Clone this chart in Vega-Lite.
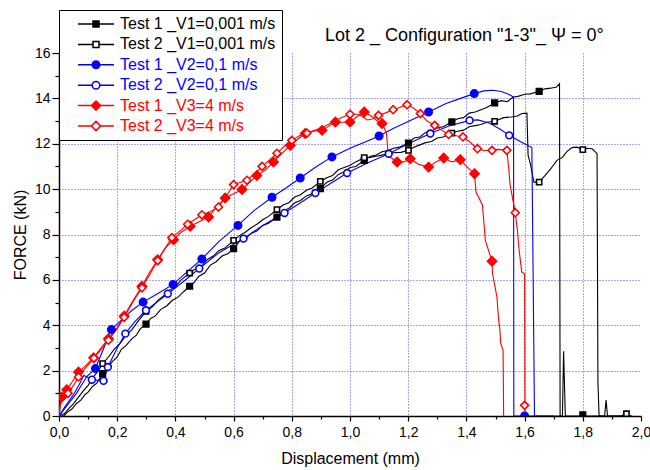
{
"$schema":"https://vega.github.io/schema/vega-lite/v6.json",
"width":582,"height":363,
"autosize":{"type":"none"},
"padding":{"left":59,"top":53,"right":9,"bottom":54},
"background":"#ffffff",
"config":{"font":"Liberation Sans","view":{"stroke":null},
 "axis":{"domainColor":"#000000","domainWidth":1.5,"tickColor":"#000000","tickWidth":1.2,"labelColor":"#000000","labelFontSize":14,"titleFontSize":16,"titleFontWeight":"normal","titleColor":"#000000","gridColor":"#3030ff","gridDash":[1,2],"gridWidth":1,"labelOverlap":false,"labelBound":false,"labelFlush":false}},
"title":{"text":"Lot 2 _ Configuration \"1-3\"_ Ψ = 0°","anchor":"start","frame":"group","dx":266,"offset":0,"dy":35,"fontSize":18,"fontWeight":"normal","font":"Liberation Sans","color":"#000000"},
"datasets":{
"curves":[
{"series":"Test 1 _V1=0,001 m/s","x":0,"y":0},{"series":"Test 1 _V1=0,001 m/s","x":0.016,"y":0},{"series":"Test 1 _V1=0,001 m/s","x":0.03,"y":0.18},{"series":"Test 1 _V1=0,001 m/s","x":0.045,"y":0.32},{"series":"Test 1 _V1=0,001 m/s","x":0.06,"y":0.55},{"series":"Test 1 _V1=0,001 m/s","x":0.075,"y":0.7},{"series":"Test 1 _V1=0,001 m/s","x":0.09,"y":0.95},{"series":"Test 1 _V1=0,001 m/s","x":0.1,"y":1.05},{"series":"Test 1 _V1=0,001 m/s","x":0.115,"y":1.3},{"series":"Test 1 _V1=0,001 m/s","x":0.13,"y":1.45},{"series":"Test 1 _V1=0,001 m/s","x":0.15,"y":1.87},{"series":"Test 1 _V1=0,001 m/s","x":0.165,"y":2.0},{"series":"Test 1 _V1=0,001 m/s","x":0.18,"y":2.35},{"series":"Test 1 _V1=0,001 m/s","x":0.2,"y":2.6},{"series":"Test 1 _V1=0,001 m/s","x":0.215,"y":2.95},{"series":"Test 1 _V1=0,001 m/s","x":0.23,"y":3.1},{"series":"Test 1 _V1=0,001 m/s","x":0.25,"y":3.4},{"series":"Test 1 _V1=0,001 m/s","x":0.265,"y":3.55},{"series":"Test 1 _V1=0,001 m/s","x":0.28,"y":3.85},{"series":"Test 1 _V1=0,001 m/s","x":0.299,"y":4.05},{"series":"Test 1 _V1=0,001 m/s","x":0.315,"y":4.3},{"series":"Test 1 _V1=0,001 m/s","x":0.33,"y":4.4},{"series":"Test 1 _V1=0,001 m/s","x":0.35,"y":4.7},{"series":"Test 1 _V1=0,001 m/s","x":0.37,"y":4.85},{"series":"Test 1 _V1=0,001 m/s","x":0.39,"y":5.1},{"series":"Test 1 _V1=0,001 m/s","x":0.41,"y":5.25},{"series":"Test 1 _V1=0,001 m/s","x":0.43,"y":5.5},{"series":"Test 1 _V1=0,001 m/s","x":0.449,"y":5.72},{"series":"Test 1 _V1=0,001 m/s","x":0.465,"y":5.9},{"series":"Test 1 _V1=0,001 m/s","x":0.48,"y":6.15},{"series":"Test 1 _V1=0,001 m/s","x":0.5,"y":6.3},{"series":"Test 1 _V1=0,001 m/s","x":0.52,"y":6.65},{"series":"Test 1 _V1=0,001 m/s","x":0.54,"y":6.8},{"series":"Test 1 _V1=0,001 m/s","x":0.56,"y":7.05},{"series":"Test 1 _V1=0,001 m/s","x":0.58,"y":7.15},{"series":"Test 1 _V1=0,001 m/s","x":0.6,"y":7.38},{"series":"Test 1 _V1=0,001 m/s","x":0.62,"y":7.7},{"series":"Test 1 _V1=0,001 m/s","x":0.64,"y":7.8},{"series":"Test 1 _V1=0,001 m/s","x":0.66,"y":8.05},{"series":"Test 1 _V1=0,001 m/s","x":0.68,"y":8.15},{"series":"Test 1 _V1=0,001 m/s","x":0.7,"y":8.4},{"series":"Test 1 _V1=0,001 m/s","x":0.72,"y":8.5},{"series":"Test 1 _V1=0,001 m/s","x":0.749,"y":8.77},{"series":"Test 1 _V1=0,001 m/s","x":0.77,"y":9.05},{"series":"Test 1 _V1=0,001 m/s","x":0.79,"y":9.15},{"series":"Test 1 _V1=0,001 m/s","x":0.81,"y":9.4},{"series":"Test 1 _V1=0,001 m/s","x":0.83,"y":9.5},{"series":"Test 1 _V1=0,001 m/s","x":0.85,"y":9.7},{"series":"Test 1 _V1=0,001 m/s","x":0.87,"y":9.8},{"series":"Test 1 _V1=0,001 m/s","x":0.898,"y":10.02},{"series":"Test 1 _V1=0,001 m/s","x":0.92,"y":10.3},{"series":"Test 1 _V1=0,001 m/s","x":0.94,"y":10.4},{"series":"Test 1 _V1=0,001 m/s","x":0.96,"y":10.65},{"series":"Test 1 _V1=0,001 m/s","x":0.98,"y":10.75},{"series":"Test 1 _V1=0,001 m/s","x":1.0,"y":10.95},{"series":"Test 1 _V1=0,001 m/s","x":1.02,"y":11.0},{"series":"Test 1 _V1=0,001 m/s","x":1.049,"y":11.27},{"series":"Test 1 _V1=0,001 m/s","x":1.07,"y":11.45},{"series":"Test 1 _V1=0,001 m/s","x":1.09,"y":11.5},{"series":"Test 1 _V1=0,001 m/s","x":1.11,"y":11.65},{"series":"Test 1 _V1=0,001 m/s","x":1.13,"y":11.7},{"series":"Test 1 _V1=0,001 m/s","x":1.15,"y":11.8},{"series":"Test 1 _V1=0,001 m/s","x":1.17,"y":11.85},{"series":"Test 1 _V1=0,001 m/s","x":1.201,"y":12.03},{"series":"Test 1 _V1=0,001 m/s","x":1.22,"y":12.25},{"series":"Test 1 _V1=0,001 m/s","x":1.24,"y":12.3},{"series":"Test 1 _V1=0,001 m/s","x":1.26,"y":12.5},{"series":"Test 1 _V1=0,001 m/s","x":1.28,"y":12.55},{"series":"Test 1 _V1=0,001 m/s","x":1.3,"y":12.7},{"series":"Test 1 _V1=0,001 m/s","x":1.32,"y":12.75},{"series":"Test 1 _V1=0,001 m/s","x":1.35,"y":12.96},{"series":"Test 1 _V1=0,001 m/s","x":1.37,"y":13.1},{"series":"Test 1 _V1=0,001 m/s","x":1.39,"y":13.15},{"series":"Test 1 _V1=0,001 m/s","x":1.41,"y":13.35},{"series":"Test 1 _V1=0,001 m/s","x":1.43,"y":13.4},{"series":"Test 1 _V1=0,001 m/s","x":1.45,"y":13.5},{"series":"Test 1 _V1=0,001 m/s","x":1.47,"y":13.6},{"series":"Test 1 _V1=0,001 m/s","x":1.497,"y":13.8},{"series":"Test 1 _V1=0,001 m/s","x":1.52,"y":13.9},{"series":"Test 1 _V1=0,001 m/s","x":1.54,"y":13.85},{"series":"Test 1 _V1=0,001 m/s","x":1.56,"y":14.05},{"series":"Test 1 _V1=0,001 m/s","x":1.58,"y":14.1},{"series":"Test 1 _V1=0,001 m/s","x":1.6,"y":14.18},{"series":"Test 1 _V1=0,001 m/s","x":1.62,"y":14.2},{"series":"Test 1 _V1=0,001 m/s","x":1.65,"y":14.31},{"series":"Test 1 _V1=0,001 m/s","x":1.67,"y":14.42},{"series":"Test 1 _V1=0,001 m/s","x":1.69,"y":14.45},{"series":"Test 1 _V1=0,001 m/s","x":1.71,"y":14.5},{"series":"Test 1 _V1=0,001 m/s","x":1.72,"y":14.65},{"series":"Test 1 _V1=0,001 m/s","x":1.722,"y":0},{"series":"Test 1 _V1=0,001 m/s","x":1.73,"y":0},{"series":"Test 1 _V1=0,001 m/s","x":1.734,"y":2.85},{"series":"Test 1 _V1=0,001 m/s","x":1.74,"y":0},{"series":"Test 1 _V1=0,001 m/s","x":1.79,"y":0},{"series":"Test 1 _V1=0,001 m/s","x":1.8,"y":0.05},{"series":"Test 1 _V1=0,001 m/s","x":1.81,"y":0},{"series":"Test 1 _V1=0,001 m/s","x":1.96,"y":0},
{"series":"Test 2 _V1=0,001 m/s","x":0,"y":0},{"series":"Test 2 _V1=0,001 m/s","x":0.02,"y":0.12},{"series":"Test 2 _V1=0,001 m/s","x":0.035,"y":0.35},{"series":"Test 2 _V1=0,001 m/s","x":0.05,"y":0.55},{"series":"Test 2 _V1=0,001 m/s","x":0.065,"y":0.8},{"series":"Test 2 _V1=0,001 m/s","x":0.08,"y":1.05},{"series":"Test 2 _V1=0,001 m/s","x":0.1,"y":1.35},{"series":"Test 2 _V1=0,001 m/s","x":0.12,"y":1.75},{"series":"Test 2 _V1=0,001 m/s","x":0.135,"y":2.0},{"series":"Test 2 _V1=0,001 m/s","x":0.15,"y":2.31},{"series":"Test 2 _V1=0,001 m/s","x":0.17,"y":2.6},{"series":"Test 2 _V1=0,001 m/s","x":0.19,"y":2.95},{"series":"Test 2 _V1=0,001 m/s","x":0.21,"y":3.2},{"series":"Test 2 _V1=0,001 m/s","x":0.23,"y":3.55},{"series":"Test 2 _V1=0,001 m/s","x":0.25,"y":3.8},{"series":"Test 2 _V1=0,001 m/s","x":0.27,"y":4.15},{"series":"Test 2 _V1=0,001 m/s","x":0.299,"y":4.61},{"series":"Test 2 _V1=0,001 m/s","x":0.32,"y":4.8},{"series":"Test 2 _V1=0,001 m/s","x":0.34,"y":5.1},{"series":"Test 2 _V1=0,001 m/s","x":0.36,"y":5.3},{"series":"Test 2 _V1=0,001 m/s","x":0.38,"y":5.55},{"series":"Test 2 _V1=0,001 m/s","x":0.4,"y":5.7},{"series":"Test 2 _V1=0,001 m/s","x":0.42,"y":6.0},{"series":"Test 2 _V1=0,001 m/s","x":0.449,"y":6.3},{"series":"Test 2 _V1=0,001 m/s","x":0.47,"y":6.5},{"series":"Test 2 _V1=0,001 m/s","x":0.49,"y":6.6},{"series":"Test 2 _V1=0,001 m/s","x":0.51,"y":6.9},{"series":"Test 2 _V1=0,001 m/s","x":0.53,"y":7.05},{"series":"Test 2 _V1=0,001 m/s","x":0.55,"y":7.3},{"series":"Test 2 _V1=0,001 m/s","x":0.57,"y":7.4},{"series":"Test 2 _V1=0,001 m/s","x":0.6,"y":7.74},{"series":"Test 2 _V1=0,001 m/s","x":0.62,"y":7.95},{"series":"Test 2 _V1=0,001 m/s","x":0.64,"y":8.1},{"series":"Test 2 _V1=0,001 m/s","x":0.66,"y":8.3},{"series":"Test 2 _V1=0,001 m/s","x":0.68,"y":8.45},{"series":"Test 2 _V1=0,001 m/s","x":0.7,"y":8.65},{"series":"Test 2 _V1=0,001 m/s","x":0.72,"y":8.8},{"series":"Test 2 _V1=0,001 m/s","x":0.749,"y":9.1},{"series":"Test 2 _V1=0,001 m/s","x":0.77,"y":9.3},{"series":"Test 2 _V1=0,001 m/s","x":0.79,"y":9.4},{"series":"Test 2 _V1=0,001 m/s","x":0.81,"y":9.65},{"series":"Test 2 _V1=0,001 m/s","x":0.83,"y":9.75},{"series":"Test 2 _V1=0,001 m/s","x":0.85,"y":9.95},{"series":"Test 2 _V1=0,001 m/s","x":0.87,"y":10.05},{"series":"Test 2 _V1=0,001 m/s","x":0.898,"y":10.34},{"series":"Test 2 _V1=0,001 m/s","x":0.92,"y":10.5},{"series":"Test 2 _V1=0,001 m/s","x":0.94,"y":10.6},{"series":"Test 2 _V1=0,001 m/s","x":0.96,"y":10.85},{"series":"Test 2 _V1=0,001 m/s","x":0.98,"y":10.95},{"series":"Test 2 _V1=0,001 m/s","x":1.0,"y":11.05},{"series":"Test 2 _V1=0,001 m/s","x":1.02,"y":11.2},{"series":"Test 2 _V1=0,001 m/s","x":1.049,"y":11.39},{"series":"Test 2 _V1=0,001 m/s","x":1.07,"y":11.4},{"series":"Test 2 _V1=0,001 m/s","x":1.09,"y":11.45},{"series":"Test 2 _V1=0,001 m/s","x":1.11,"y":11.5},{"series":"Test 2 _V1=0,001 m/s","x":1.13,"y":11.55},{"series":"Test 2 _V1=0,001 m/s","x":1.15,"y":11.6},{"series":"Test 2 _V1=0,001 m/s","x":1.175,"y":11.62},{"series":"Test 2 _V1=0,001 m/s","x":1.201,"y":11.71},{"series":"Test 2 _V1=0,001 m/s","x":1.22,"y":11.85},{"series":"Test 2 _V1=0,001 m/s","x":1.24,"y":11.95},{"series":"Test 2 _V1=0,001 m/s","x":1.26,"y":12.05},{"series":"Test 2 _V1=0,001 m/s","x":1.28,"y":12.1},{"series":"Test 2 _V1=0,001 m/s","x":1.3,"y":12.25},{"series":"Test 2 _V1=0,001 m/s","x":1.32,"y":12.3},{"series":"Test 2 _V1=0,001 m/s","x":1.35,"y":12.47},{"series":"Test 2 _V1=0,001 m/s","x":1.37,"y":12.55},{"series":"Test 2 _V1=0,001 m/s","x":1.39,"y":12.6},{"series":"Test 2 _V1=0,001 m/s","x":1.41,"y":12.75},{"series":"Test 2 _V1=0,001 m/s","x":1.43,"y":12.8},{"series":"Test 2 _V1=0,001 m/s","x":1.45,"y":12.85},{"series":"Test 2 _V1=0,001 m/s","x":1.47,"y":12.95},{"series":"Test 2 _V1=0,001 m/s","x":1.497,"y":12.99},{"series":"Test 2 _V1=0,001 m/s","x":1.528,"y":13.15},{"series":"Test 2 _V1=0,001 m/s","x":1.554,"y":13.18},{"series":"Test 2 _V1=0,001 m/s","x":1.575,"y":13.22},{"series":"Test 2 _V1=0,001 m/s","x":1.591,"y":13.33},{"series":"Test 2 _V1=0,001 m/s","x":1.608,"y":13.35},{"series":"Test 2 _V1=0,001 m/s","x":1.612,"y":11.5},{"series":"Test 2 _V1=0,001 m/s","x":1.62,"y":11.1},{"series":"Test 2 _V1=0,001 m/s","x":1.632,"y":10.31},{"series":"Test 2 _V1=0,001 m/s","x":1.65,"y":10.31},{"series":"Test 2 _V1=0,001 m/s","x":1.67,"y":10.6},{"series":"Test 2 _V1=0,001 m/s","x":1.69,"y":10.9},{"series":"Test 2 _V1=0,001 m/s","x":1.711,"y":11.27},{"series":"Test 2 _V1=0,001 m/s","x":1.73,"y":11.4},{"series":"Test 2 _V1=0,001 m/s","x":1.745,"y":11.65},{"series":"Test 2 _V1=0,001 m/s","x":1.763,"y":11.83},{"series":"Test 2 _V1=0,001 m/s","x":1.78,"y":11.85},{"series":"Test 2 _V1=0,001 m/s","x":1.8,"y":11.74},{"series":"Test 2 _V1=0,001 m/s","x":1.815,"y":11.8},{"series":"Test 2 _V1=0,001 m/s","x":1.832,"y":11.78},{"series":"Test 2 _V1=0,001 m/s","x":1.849,"y":11.56},{"series":"Test 2 _V1=0,001 m/s","x":1.852,"y":1.5},{"series":"Test 2 _V1=0,001 m/s","x":1.856,"y":0},{"series":"Test 2 _V1=0,001 m/s","x":1.875,"y":0},{"series":"Test 2 _V1=0,001 m/s","x":1.88,"y":0.7},{"series":"Test 2 _V1=0,001 m/s","x":1.885,"y":0},{"series":"Test 2 _V1=0,001 m/s","x":1.93,"y":0},{"series":"Test 2 _V1=0,001 m/s","x":1.95,"y":0.1},{"series":"Test 2 _V1=0,001 m/s","x":1.965,"y":0},{"series":"Test 2 _V1=0,001 m/s","x":1.97,"y":0},
{"series":"Test 1 _V2=0,1 m/s","x":0,"y":0},{"series":"Test 1 _V2=0,1 m/s","x":0.03,"y":0.5},{"series":"Test 1 _V2=0,1 m/s","x":0.06,"y":1.0},{"series":"Test 1 _V2=0,1 m/s","x":0.096,"y":1.75},{"series":"Test 1 _V2=0,1 m/s","x":0.125,"y":2.09},{"series":"Test 1 _V2=0,1 m/s","x":0.18,"y":3.81},{"series":"Test 1 _V2=0,1 m/s","x":0.22,"y":4.3},{"series":"Test 1 _V2=0,1 m/s","x":0.25,"y":4.65},{"series":"Test 1 _V2=0,1 m/s","x":0.289,"y":5.02},{"series":"Test 1 _V2=0,1 m/s","x":0.34,"y":5.4},{"series":"Test 1 _V2=0,1 m/s","x":0.392,"y":5.8},{"series":"Test 1 _V2=0,1 m/s","x":0.44,"y":6.35},{"series":"Test 1 _V2=0,1 m/s","x":0.491,"y":6.92},{"series":"Test 1 _V2=0,1 m/s","x":0.55,"y":7.7},{"series":"Test 1 _V2=0,1 m/s","x":0.615,"y":8.4},{"series":"Test 1 _V2=0,1 m/s","x":0.67,"y":9.05},{"series":"Test 1 _V2=0,1 m/s","x":0.732,"y":9.64},{"series":"Test 1 _V2=0,1 m/s","x":0.78,"y":10.05},{"series":"Test 1 _V2=0,1 m/s","x":0.829,"y":10.49},{"series":"Test 1 _V2=0,1 m/s","x":0.88,"y":10.95},{"series":"Test 1 _V2=0,1 m/s","x":0.938,"y":11.42},{"series":"Test 1 _V2=0,1 m/s","x":1.0,"y":11.8},{"series":"Test 1 _V2=0,1 m/s","x":1.05,"y":12.07},{"series":"Test 1 _V2=0,1 m/s","x":1.1,"y":12.34},{"series":"Test 1 _V2=0,1 m/s","x":1.15,"y":12.68},{"series":"Test 1 _V2=0,1 m/s","x":1.2,"y":12.98},{"series":"Test 1 _V2=0,1 m/s","x":1.27,"y":13.4},{"series":"Test 1 _V2=0,1 m/s","x":1.33,"y":13.77},{"series":"Test 1 _V2=0,1 m/s","x":1.38,"y":14.0},{"series":"Test 1 _V2=0,1 m/s","x":1.427,"y":14.21},{"series":"Test 1 _V2=0,1 m/s","x":1.46,"y":14.33},{"series":"Test 1 _V2=0,1 m/s","x":1.49,"y":14.36},{"series":"Test 1 _V2=0,1 m/s","x":1.52,"y":14.3},{"series":"Test 1 _V2=0,1 m/s","x":1.545,"y":14.18},{"series":"Test 1 _V2=0,1 m/s","x":1.562,"y":14.06},{"series":"Test 1 _V2=0,1 m/s","x":1.563,"y":0},{"series":"Test 1 _V2=0,1 m/s","x":1.73,"y":0},
{"series":"Test 2 _V2=0,1 m/s","x":0,"y":0},{"series":"Test 2 _V2=0,1 m/s","x":0.02,"y":0.4},{"series":"Test 2 _V2=0,1 m/s","x":0.05,"y":0.95},{"series":"Test 2 _V2=0,1 m/s","x":0.07,"y":1.4},{"series":"Test 2 _V2=0,1 m/s","x":0.085,"y":1.79},{"series":"Test 2 _V2=0,1 m/s","x":0.1,"y":1.7},{"series":"Test 2 _V2=0,1 m/s","x":0.113,"y":1.6},{"series":"Test 2 _V2=0,1 m/s","x":0.135,"y":1.57},{"series":"Test 2 _V2=0,1 m/s","x":0.153,"y":1.55},{"series":"Test 2 _V2=0,1 m/s","x":0.168,"y":2.16},{"series":"Test 2 _V2=0,1 m/s","x":0.2,"y":3.0},{"series":"Test 2 _V2=0,1 m/s","x":0.228,"y":3.63},{"series":"Test 2 _V2=0,1 m/s","x":0.26,"y":4.15},{"series":"Test 2 _V2=0,1 m/s","x":0.299,"y":4.66},{"series":"Test 2 _V2=0,1 m/s","x":0.34,"y":5.05},{"series":"Test 2 _V2=0,1 m/s","x":0.374,"y":5.39},{"series":"Test 2 _V2=0,1 m/s","x":0.43,"y":5.95},{"series":"Test 2 _V2=0,1 m/s","x":0.482,"y":6.5},{"series":"Test 2 _V2=0,1 m/s","x":0.55,"y":7.2},{"series":"Test 2 _V2=0,1 m/s","x":0.634,"y":7.82},{"series":"Test 2 _V2=0,1 m/s","x":0.7,"y":8.4},{"series":"Test 2 _V2=0,1 m/s","x":0.775,"y":8.95},{"series":"Test 2 _V2=0,1 m/s","x":0.83,"y":9.4},{"series":"Test 2 _V2=0,1 m/s","x":0.881,"y":9.83},{"series":"Test 2 _V2=0,1 m/s","x":0.94,"y":10.3},{"series":"Test 2 _V2=0,1 m/s","x":0.99,"y":10.71},{"series":"Test 2 _V2=0,1 m/s","x":1.06,"y":11.15},{"series":"Test 2 _V2=0,1 m/s","x":1.133,"y":11.56},{"series":"Test 2 _V2=0,1 m/s","x":1.2,"y":12.0},{"series":"Test 2 _V2=0,1 m/s","x":1.276,"y":12.45},{"series":"Test 2 _V2=0,1 m/s","x":1.34,"y":12.78},{"series":"Test 2 _V2=0,1 m/s","x":1.411,"y":13.03},{"series":"Test 2 _V2=0,1 m/s","x":1.44,"y":13.05},{"series":"Test 2 _V2=0,1 m/s","x":1.48,"y":12.9},{"series":"Test 2 _V2=0,1 m/s","x":1.515,"y":12.65},{"series":"Test 2 _V2=0,1 m/s","x":1.547,"y":12.37},{"series":"Test 2 _V2=0,1 m/s","x":1.585,"y":12.1},{"series":"Test 2 _V2=0,1 m/s","x":1.625,"y":11.83},{"series":"Test 2 _V2=0,1 m/s","x":1.634,"y":0},{"series":"Test 2 _V2=0,1 m/s","x":1.7,"y":0},
{"series":"Test 1 _V3=4 m/s","x":0,"y":0},{"series":"Test 1 _V3=4 m/s","x":0.003,"y":0.45},{"series":"Test 1 _V3=4 m/s","x":0.01,"y":0.84},{"series":"Test 1 _V3=4 m/s","x":0.027,"y":1.16},{"series":"Test 1 _V3=4 m/s","x":0.045,"y":1.5},{"series":"Test 1 _V3=4 m/s","x":0.067,"y":1.94},{"series":"Test 1 _V3=4 m/s","x":0.09,"y":2.2},{"series":"Test 1 _V3=4 m/s","x":0.119,"y":2.57},{"series":"Test 1 _V3=4 m/s","x":0.145,"y":3.0},{"series":"Test 1 _V3=4 m/s","x":0.17,"y":3.41},{"series":"Test 1 _V3=4 m/s","x":0.2,"y":3.9},{"series":"Test 1 _V3=4 m/s","x":0.224,"y":4.41},{"series":"Test 1 _V3=4 m/s","x":0.255,"y":5.1},{"series":"Test 1 _V3=4 m/s","x":0.285,"y":5.72},{"series":"Test 1 _V3=4 m/s","x":0.31,"y":6.3},{"series":"Test 1 _V3=4 m/s","x":0.339,"y":6.89},{"series":"Test 1 _V3=4 m/s","x":0.365,"y":7.4},{"series":"Test 1 _V3=4 m/s","x":0.394,"y":7.77},{"series":"Test 1 _V3=4 m/s","x":0.42,"y":8.1},{"series":"Test 1 _V3=4 m/s","x":0.451,"y":8.36},{"series":"Test 1 _V3=4 m/s","x":0.48,"y":8.55},{"series":"Test 1 _V3=4 m/s","x":0.514,"y":8.77},{"series":"Test 1 _V3=4 m/s","x":0.54,"y":9.2},{"series":"Test 1 _V3=4 m/s","x":0.571,"y":9.61},{"series":"Test 1 _V3=4 m/s","x":0.6,"y":9.8},{"series":"Test 1 _V3=4 m/s","x":0.629,"y":9.98},{"series":"Test 1 _V3=4 m/s","x":0.655,"y":10.3},{"series":"Test 1 _V3=4 m/s","x":0.68,"y":10.6},{"series":"Test 1 _V3=4 m/s","x":0.71,"y":10.85},{"series":"Test 1 _V3=4 m/s","x":0.737,"y":11.2},{"series":"Test 1 _V3=4 m/s","x":0.765,"y":11.55},{"series":"Test 1 _V3=4 m/s","x":0.795,"y":11.93},{"series":"Test 1 _V3=4 m/s","x":0.82,"y":12.2},{"series":"Test 1 _V3=4 m/s","x":0.846,"y":12.45},{"series":"Test 1 _V3=4 m/s","x":0.875,"y":12.55},{"series":"Test 1 _V3=4 m/s","x":0.904,"y":12.59},{"series":"Test 1 _V3=4 m/s","x":0.93,"y":12.8},{"series":"Test 1 _V3=4 m/s","x":0.95,"y":12.96},{"series":"Test 1 _V3=4 m/s","x":0.975,"y":12.95},{"series":"Test 1 _V3=4 m/s","x":1.0,"y":12.96},{"series":"Test 1 _V3=4 m/s","x":1.025,"y":13.2},{"series":"Test 1 _V3=4 m/s","x":1.049,"y":13.4},{"series":"Test 1 _V3=4 m/s","x":1.075,"y":13.2},{"series":"Test 1 _V3=4 m/s","x":1.1,"y":12.95},{"series":"Test 1 _V3=4 m/s","x":1.11,"y":12.89},{"series":"Test 1 _V3=4 m/s","x":1.125,"y":12.5},{"series":"Test 1 _V3=4 m/s","x":1.132,"y":11.45},{"series":"Test 1 _V3=4 m/s","x":1.145,"y":11.35},{"series":"Test 1 _V3=4 m/s","x":1.162,"y":11.2},{"series":"Test 1 _V3=4 m/s","x":1.185,"y":11.2},{"series":"Test 1 _V3=4 m/s","x":1.207,"y":11.34},{"series":"Test 1 _V3=4 m/s","x":1.235,"y":11.1},{"series":"Test 1 _V3=4 m/s","x":1.27,"y":10.97},{"series":"Test 1 _V3=4 m/s","x":1.295,"y":11.2},{"series":"Test 1 _V3=4 m/s","x":1.322,"y":11.37},{"series":"Test 1 _V3=4 m/s","x":1.35,"y":11.2},{"series":"Test 1 _V3=4 m/s","x":1.379,"y":11.3},{"series":"Test 1 _V3=4 m/s","x":1.4,"y":11.0},{"series":"Test 1 _V3=4 m/s","x":1.428,"y":10.68},{"series":"Test 1 _V3=4 m/s","x":1.433,"y":9.87},{"series":"Test 1 _V3=4 m/s","x":1.455,"y":9.3},{"series":"Test 1 _V3=4 m/s","x":1.46,"y":8.55},{"series":"Test 1 _V3=4 m/s","x":1.465,"y":7.74},{"series":"Test 1 _V3=4 m/s","x":1.488,"y":6.82},{"series":"Test 1 _V3=4 m/s","x":1.49,"y":6.27},{"series":"Test 1 _V3=4 m/s","x":1.505,"y":5.24},{"series":"Test 1 _V3=4 m/s","x":1.51,"y":4.36},{"series":"Test 1 _V3=4 m/s","x":1.515,"y":3.8},{"series":"Test 1 _V3=4 m/s","x":1.518,"y":3.2},{"series":"Test 1 _V3=4 m/s","x":1.526,"y":2.9},{"series":"Test 1 _V3=4 m/s","x":1.528,"y":0},
{"series":"Test 2 _V3=4 m/s","x":0,"y":0},{"series":"Test 2 _V3=4 m/s","x":0.005,"y":0.5},{"series":"Test 2 _V3=4 m/s","x":0.015,"y":0.85},{"series":"Test 2 _V3=4 m/s","x":0.031,"y":1.0},{"series":"Test 2 _V3=4 m/s","x":0.05,"y":1.35},{"series":"Test 2 _V3=4 m/s","x":0.067,"y":1.72},{"series":"Test 2 _V3=4 m/s","x":0.09,"y":2.1},{"series":"Test 2 _V3=4 m/s","x":0.12,"y":2.55},{"series":"Test 2 _V3=4 m/s","x":0.145,"y":2.95},{"series":"Test 2 _V3=4 m/s","x":0.17,"y":3.34},{"series":"Test 2 _V3=4 m/s","x":0.2,"y":3.85},{"series":"Test 2 _V3=4 m/s","x":0.224,"y":4.35},{"series":"Test 2 _V3=4 m/s","x":0.255,"y":5.05},{"series":"Test 2 _V3=4 m/s","x":0.285,"y":5.65},{"series":"Test 2 _V3=4 m/s","x":0.315,"y":6.3},{"series":"Test 2 _V3=4 m/s","x":0.339,"y":6.85},{"series":"Test 2 _V3=4 m/s","x":0.365,"y":7.4},{"series":"Test 2 _V3=4 m/s","x":0.388,"y":7.86},{"series":"Test 2 _V3=4 m/s","x":0.415,"y":8.15},{"series":"Test 2 _V3=4 m/s","x":0.442,"y":8.45},{"series":"Test 2 _V3=4 m/s","x":0.465,"y":8.65},{"series":"Test 2 _V3=4 m/s","x":0.491,"y":8.87},{"series":"Test 2 _V3=4 m/s","x":0.52,"y":9.0},{"series":"Test 2 _V3=4 m/s","x":0.548,"y":9.21},{"series":"Test 2 _V3=4 m/s","x":0.575,"y":9.7},{"series":"Test 2 _V3=4 m/s","x":0.6,"y":10.2},{"series":"Test 2 _V3=4 m/s","x":0.625,"y":10.3},{"series":"Test 2 _V3=4 m/s","x":0.646,"y":10.39},{"series":"Test 2 _V3=4 m/s","x":0.675,"y":10.7},{"series":"Test 2 _V3=4 m/s","x":0.698,"y":11.0},{"series":"Test 2 _V3=4 m/s","x":0.725,"y":11.3},{"series":"Test 2 _V3=4 m/s","x":0.749,"y":11.58},{"series":"Test 2 _V3=4 m/s","x":0.775,"y":11.9},{"series":"Test 2 _V3=4 m/s","x":0.8,"y":12.15},{"series":"Test 2 _V3=4 m/s","x":0.826,"y":12.35},{"series":"Test 2 _V3=4 m/s","x":0.852,"y":12.47},{"series":"Test 2 _V3=4 m/s","x":0.88,"y":12.6},{"series":"Test 2 _V3=4 m/s","x":0.91,"y":12.75},{"series":"Test 2 _V3=4 m/s","x":0.94,"y":12.95},{"series":"Test 2 _V3=4 m/s","x":0.97,"y":13.15},{"series":"Test 2 _V3=4 m/s","x":1.0,"y":13.3},{"series":"Test 2 _V3=4 m/s","x":1.03,"y":13.3},{"series":"Test 2 _V3=4 m/s","x":1.06,"y":13.05},{"series":"Test 2 _V3=4 m/s","x":1.08,"y":13.1},{"series":"Test 2 _V3=4 m/s","x":1.098,"y":13.25},{"series":"Test 2 _V3=4 m/s","x":1.12,"y":13.35},{"series":"Test 2 _V3=4 m/s","x":1.148,"y":13.5},{"series":"Test 2 _V3=4 m/s","x":1.17,"y":13.6},{"series":"Test 2 _V3=4 m/s","x":1.196,"y":13.72},{"series":"Test 2 _V3=4 m/s","x":1.215,"y":13.6},{"series":"Test 2 _V3=4 m/s","x":1.242,"y":13.33},{"series":"Test 2 _V3=4 m/s","x":1.265,"y":13.0},{"series":"Test 2 _V3=4 m/s","x":1.291,"y":12.81},{"series":"Test 2 _V3=4 m/s","x":1.315,"y":12.6},{"series":"Test 2 _V3=4 m/s","x":1.339,"y":12.41},{"series":"Test 2 _V3=4 m/s","x":1.365,"y":12.35},{"series":"Test 2 _V3=4 m/s","x":1.388,"y":12.3},{"series":"Test 2 _V3=4 m/s","x":1.41,"y":12.1},{"series":"Test 2 _V3=4 m/s","x":1.438,"y":11.78},{"series":"Test 2 _V3=4 m/s","x":1.46,"y":11.7},{"series":"Test 2 _V3=4 m/s","x":1.488,"y":11.71},{"series":"Test 2 _V3=4 m/s","x":1.51,"y":11.75},{"series":"Test 2 _V3=4 m/s","x":1.539,"y":11.71},{"series":"Test 2 _V3=4 m/s","x":1.545,"y":11.0},{"series":"Test 2 _V3=4 m/s","x":1.55,"y":10.2},{"series":"Test 2 _V3=4 m/s","x":1.56,"y":9.5},{"series":"Test 2 _V3=4 m/s","x":1.568,"y":8.96},{"series":"Test 2 _V3=4 m/s","x":1.575,"y":8.2},{"series":"Test 2 _V3=4 m/s","x":1.58,"y":7.45},{"series":"Test 2 _V3=4 m/s","x":1.59,"y":6.35},{"series":"Test 2 _V3=4 m/s","x":1.6,"y":6.27},{"series":"Test 2 _V3=4 m/s","x":1.601,"y":0}
],
"markers":[
{"series":"Test 1 _V1=0,001 m/s","x":0.15,"y":1.87},{"series":"Test 1 _V1=0,001 m/s","x":0.299,"y":4.05},{"series":"Test 1 _V1=0,001 m/s","x":0.449,"y":5.72},{"series":"Test 1 _V1=0,001 m/s","x":0.6,"y":7.38},{"series":"Test 1 _V1=0,001 m/s","x":0.749,"y":8.77},{"series":"Test 1 _V1=0,001 m/s","x":0.898,"y":10.02},{"series":"Test 1 _V1=0,001 m/s","x":1.049,"y":11.27},{"series":"Test 1 _V1=0,001 m/s","x":1.201,"y":12.03},{"series":"Test 1 _V1=0,001 m/s","x":1.35,"y":12.96},{"series":"Test 1 _V1=0,001 m/s","x":1.497,"y":13.8},{"series":"Test 1 _V1=0,001 m/s","x":1.65,"y":14.31},{"series":"Test 1 _V1=0,001 m/s","x":1.8,"y":0.05},
{"series":"Test 2 _V1=0,001 m/s","x":0.15,"y":2.31},{"series":"Test 2 _V1=0,001 m/s","x":0.299,"y":4.61},{"series":"Test 2 _V1=0,001 m/s","x":0.449,"y":6.3},{"series":"Test 2 _V1=0,001 m/s","x":0.6,"y":7.74},{"series":"Test 2 _V1=0,001 m/s","x":0.749,"y":9.1},{"series":"Test 2 _V1=0,001 m/s","x":0.898,"y":10.34},{"series":"Test 2 _V1=0,001 m/s","x":1.049,"y":11.39},{"series":"Test 2 _V1=0,001 m/s","x":1.201,"y":11.71},{"series":"Test 2 _V1=0,001 m/s","x":1.35,"y":12.47},{"series":"Test 2 _V1=0,001 m/s","x":1.497,"y":12.99},{"series":"Test 2 _V1=0,001 m/s","x":1.65,"y":10.31},{"series":"Test 2 _V1=0,001 m/s","x":1.8,"y":11.74},{"series":"Test 2 _V1=0,001 m/s","x":1.95,"y":0.1},
{"series":"Test 1 _V2=0,1 m/s","x":0.125,"y":2.09},{"series":"Test 1 _V2=0,1 m/s","x":0.18,"y":3.81},{"series":"Test 1 _V2=0,1 m/s","x":0.289,"y":5.02},{"series":"Test 1 _V2=0,1 m/s","x":0.392,"y":5.8},{"series":"Test 1 _V2=0,1 m/s","x":0.491,"y":6.92},{"series":"Test 1 _V2=0,1 m/s","x":0.615,"y":8.4},{"series":"Test 1 _V2=0,1 m/s","x":0.732,"y":9.64},{"series":"Test 1 _V2=0,1 m/s","x":0.829,"y":10.49},{"series":"Test 1 _V2=0,1 m/s","x":0.938,"y":11.42},{"series":"Test 1 _V2=0,1 m/s","x":1.1,"y":12.34},{"series":"Test 1 _V2=0,1 m/s","x":1.27,"y":13.4},{"series":"Test 1 _V2=0,1 m/s","x":1.427,"y":14.21},{"series":"Test 1 _V2=0,1 m/s","x":1.6,"y":0},
{"series":"Test 2 _V2=0,1 m/s","x":0.113,"y":1.6},{"series":"Test 2 _V2=0,1 m/s","x":0.153,"y":1.55},{"series":"Test 2 _V2=0,1 m/s","x":0.168,"y":2.16},{"series":"Test 2 _V2=0,1 m/s","x":0.228,"y":3.63},{"series":"Test 2 _V2=0,1 m/s","x":0.299,"y":4.66},{"series":"Test 2 _V2=0,1 m/s","x":0.374,"y":5.39},{"series":"Test 2 _V2=0,1 m/s","x":0.482,"y":6.5},{"series":"Test 2 _V2=0,1 m/s","x":0.634,"y":7.82},{"series":"Test 2 _V2=0,1 m/s","x":0.775,"y":8.95},{"series":"Test 2 _V2=0,1 m/s","x":0.881,"y":9.83},{"series":"Test 2 _V2=0,1 m/s","x":0.99,"y":10.71},{"series":"Test 2 _V2=0,1 m/s","x":1.133,"y":11.56},{"series":"Test 2 _V2=0,1 m/s","x":1.276,"y":12.45},{"series":"Test 2 _V2=0,1 m/s","x":1.411,"y":13.03},{"series":"Test 2 _V2=0,1 m/s","x":1.547,"y":12.37},
{"series":"Test 1 _V3=4 m/s","x":0.01,"y":0.84},{"series":"Test 1 _V3=4 m/s","x":0.027,"y":1.16},{"series":"Test 1 _V3=4 m/s","x":0.067,"y":1.94},{"series":"Test 1 _V3=4 m/s","x":0.119,"y":2.57},{"series":"Test 1 _V3=4 m/s","x":0.17,"y":3.41},{"series":"Test 1 _V3=4 m/s","x":0.224,"y":4.41},{"series":"Test 1 _V3=4 m/s","x":0.285,"y":5.72},{"series":"Test 1 _V3=4 m/s","x":0.339,"y":6.89},{"series":"Test 1 _V3=4 m/s","x":0.394,"y":7.77},{"series":"Test 1 _V3=4 m/s","x":0.451,"y":8.36},{"series":"Test 1 _V3=4 m/s","x":0.514,"y":8.77},{"series":"Test 1 _V3=4 m/s","x":0.571,"y":9.61},{"series":"Test 1 _V3=4 m/s","x":0.629,"y":9.98},{"series":"Test 1 _V3=4 m/s","x":0.68,"y":10.6},{"series":"Test 1 _V3=4 m/s","x":0.737,"y":11.2},{"series":"Test 1 _V3=4 m/s","x":0.795,"y":11.93},{"series":"Test 1 _V3=4 m/s","x":0.846,"y":12.45},{"series":"Test 1 _V3=4 m/s","x":0.904,"y":12.59},{"series":"Test 1 _V3=4 m/s","x":0.95,"y":12.96},{"series":"Test 1 _V3=4 m/s","x":1.0,"y":12.96},{"series":"Test 1 _V3=4 m/s","x":1.049,"y":13.4},{"series":"Test 1 _V3=4 m/s","x":1.11,"y":12.89},{"series":"Test 1 _V3=4 m/s","x":1.162,"y":11.2},{"series":"Test 1 _V3=4 m/s","x":1.207,"y":11.34},{"series":"Test 1 _V3=4 m/s","x":1.27,"y":10.97},{"series":"Test 1 _V3=4 m/s","x":1.322,"y":11.37},{"series":"Test 1 _V3=4 m/s","x":1.379,"y":11.3},{"series":"Test 1 _V3=4 m/s","x":1.428,"y":10.68},{"series":"Test 1 _V3=4 m/s","x":1.488,"y":6.82},
{"series":"Test 2 _V3=4 m/s","x":0.031,"y":1.0},{"series":"Test 2 _V3=4 m/s","x":0.067,"y":1.72},{"series":"Test 2 _V3=4 m/s","x":0.12,"y":2.55},{"series":"Test 2 _V3=4 m/s","x":0.17,"y":3.34},{"series":"Test 2 _V3=4 m/s","x":0.224,"y":4.35},{"series":"Test 2 _V3=4 m/s","x":0.285,"y":5.65},{"series":"Test 2 _V3=4 m/s","x":0.339,"y":6.85},{"series":"Test 2 _V3=4 m/s","x":0.388,"y":7.86},{"series":"Test 2 _V3=4 m/s","x":0.442,"y":8.45},{"series":"Test 2 _V3=4 m/s","x":0.491,"y":8.87},{"series":"Test 2 _V3=4 m/s","x":0.548,"y":9.21},{"series":"Test 2 _V3=4 m/s","x":0.6,"y":10.2},{"series":"Test 2 _V3=4 m/s","x":0.646,"y":10.39},{"series":"Test 2 _V3=4 m/s","x":0.698,"y":11.0},{"series":"Test 2 _V3=4 m/s","x":0.749,"y":11.58},{"series":"Test 2 _V3=4 m/s","x":0.8,"y":12.15},{"series":"Test 2 _V3=4 m/s","x":0.852,"y":12.47},{"series":"Test 2 _V3=4 m/s","x":1.0,"y":13.3},{"series":"Test 2 _V3=4 m/s","x":1.098,"y":13.25},{"series":"Test 2 _V3=4 m/s","x":1.148,"y":13.5},{"series":"Test 2 _V3=4 m/s","x":1.196,"y":13.72},{"series":"Test 2 _V3=4 m/s","x":1.242,"y":13.33},{"series":"Test 2 _V3=4 m/s","x":1.291,"y":12.81},{"series":"Test 2 _V3=4 m/s","x":1.339,"y":12.41},{"series":"Test 2 _V3=4 m/s","x":1.388,"y":12.3},{"series":"Test 2 _V3=4 m/s","x":1.438,"y":11.78},{"series":"Test 2 _V3=4 m/s","x":1.488,"y":11.71},{"series":"Test 2 _V3=4 m/s","x":1.539,"y":11.71},{"series":"Test 2 _V3=4 m/s","x":1.568,"y":8.96},{"series":"Test 2 _V3=4 m/s","x":1.6,"y":0.47}
]},
"encoding":{
 "x":{"field":"x","type":"quantitative","scale":{"domain":[0,2],"nice":false,"zero":false},
  "axis":{"title":"Displacement (mm)","values":[0,0.1,0.2,0.3,0.4,0.5,0.6,0.7,0.8,0.9,1,1.1,1.2,1.3,1.4,1.5,1.6,1.7,1.8,1.9,2],
   "labelExpr":"round(datum.value*10)%2==1 ? '' : replace(format(datum.value,'.1f'),'.',',')",
   "tickSize":{"condition":{"test":"round(datum.value*10)%2==1","value":3},"value":5},
   "gridOpacity":{"condition":{"test":"round(datum.value*10)%2==1 || datum.value>1.99","value":0},"value":0.85},
   "labelPadding":4,"titlePadding":11}},
 "y":{"field":"y","type":"quantitative","scale":{"domain":[0,16],"nice":false,"zero":false},
  "axis":{"title":"FORCE (kN)","values":[0,1,2,3,4,5,6,7,8,9,10,11,12,13,14,15,16],
   "labelExpr":"datum.value%2==1 ? '' : format(datum.value,'d')",
   "tickSize":{"condition":{"test":"datum.value%2==1","value":4},"value":7},
   "gridOpacity":{"condition":{"test":"datum.value%2==1 || datum.value>15.9","value":0},"value":0.85},
   "labelPadding":2,"titlePadding":6}}
},
"layer":[
 {"data":{"name":"curves"},
  "transform":[{"window":[{"op":"row_number","as":"i"}]}],
  "mark":{"type":"line","strokeWidth":1.1,"clip":true},
  "encoding":{
   "stroke":{"field":"series","type":"nominal","scale":{"domain":["Test 1 _V1=0,001 m/s","Test 2 _V1=0,001 m/s","Test 1 _V2=0,1 m/s","Test 2 _V2=0,1 m/s","Test 1 _V3=4 m/s","Test 2 _V3=4 m/s"],"range":["#000000","#000000","#0000ff","#0000ff","#ff0000","#ff0000"]},"legend":null},
   "order":{"field":"i","type":"quantitative"}}},
 {"data":{"name":"markers"},
  "mark":{"type":"point","strokeWidth":1.6,"opacity":1,"size":16,"clip":true},
  "encoding":{
   "stroke":{"field":"series","type":"nominal","scale":{"domain":["Test 1 _V1=0,001 m/s","Test 2 _V1=0,001 m/s","Test 1 _V2=0,1 m/s","Test 2 _V2=0,1 m/s","Test 1 _V3=4 m/s","Test 2 _V3=4 m/s"],"range":["#000000","#000000","#0000ff","#0000ff","#ff0000","#ff0000"]},"legend":null},
   "fill":{"field":"series","type":"nominal","scale":{"domain":["Test 1 _V1=0,001 m/s","Test 2 _V1=0,001 m/s","Test 1 _V2=0,1 m/s","Test 2 _V2=0,1 m/s","Test 1 _V3=4 m/s","Test 2 _V3=4 m/s"],"range":["#000000","#ffffff","#0000ff","#ffffff","#ff0000","#ffffff"]},"legend":null},
   "shape":{"field":"series","type":"nominal","scale":{"domain":["Test 1 _V1=0,001 m/s","Test 2 _V1=0,001 m/s","Test 1 _V2=0,1 m/s","Test 2 _V2=0,1 m/s","Test 1 _V3=4 m/s","Test 2 _V3=4 m/s"],"range":["M-1.4,-1.4H1.4V1.4H-1.4Z","M-1.3,-1.3H1.3V1.3H-1.3Z","M-1.85,0A1.85,1.85,0,1,1,1.85,0A1.85,1.85,0,1,1,-1.85,0Z","M-1.7,0A1.7,1.7,0,1,1,1.7,0A1.7,1.7,0,1,1,-1.7,0Z","M-2.3,0L0,-2.3L2.3,0L0,2.3Z","M-2.0,0L0,-2.0L2.0,0L0,2.0Z"]},"legend":null}}},
 {"data":{"name":"markers"},
  "mark":{"type":"point","strokeWidth":1.5,"opacity":0,"size":16},
  "encoding":{
   "stroke":{"field":"series","type":"nominal","scale":{"domain":["Test 1 _V1=0,001 m/s","Test 2 _V1=0,001 m/s","Test 1 _V2=0,1 m/s","Test 2 _V2=0,1 m/s","Test 1 _V3=4 m/s","Test 2 _V3=4 m/s"],"range":["#000000","#000000","#0000ff","#0000ff","#ff0000","#ff0000"]},
    "legend":{"title":null,"orient":"none","legendX":0,"legendY":-43,"direction":"vertical","strokeColor":"#000000","fillColor":"#ffffff","padding":6,"labelFontSize":16,"labelFont":"Liberation Sans","labelLimit":400,"symbolSize":16,"symbolStrokeWidth":1.5,"symbolOpacity":1,"symbolFillColor":"#ffffff","symbolOffset":23,"labelOffset":16,"rowPadding":4.4,
     "encode":{"labels":{"update":{"fill":{"signal":"indexof(datum.value,'V1')>=0 ? '#000000' : (indexof(datum.value,'V2')>=0 ? '#0000ff' : '#ff0000')"}}}}}},
   "fill":{"field":"series","type":"nominal","scale":{"domain":["Test 1 _V1=0,001 m/s","Test 2 _V1=0,001 m/s","Test 1 _V2=0,1 m/s","Test 2 _V2=0,1 m/s","Test 1 _V3=4 m/s","Test 2 _V3=4 m/s"],"range":["#000000","#ffffff","#0000ff","#ffffff","#ff0000","#ffffff"]}},
   "shape":{"field":"series","type":"nominal","scale":{"domain":["Test 1 _V1=0,001 m/s","Test 2 _V1=0,001 m/s","Test 1 _V2=0,1 m/s","Test 2 _V2=0,1 m/s","Test 1 _V3=4 m/s","Test 2 _V3=4 m/s"],"range":["M-9,0H-1.5M1.5,0H9M-1.5,-1.5H1.5V1.5H-1.5Z","M-9,0H-1.5M1.5,0H9M-1.5,-1.5H1.5V1.5H-1.5Z","M-9,0H-1.9M1.9,0H9M-1.9,0A1.9,1.9,0,1,1,1.9,0A1.9,1.9,0,1,1,-1.9,0Z","M-9,0H-1.9M1.9,0H9M-1.9,0A1.9,1.9,0,1,1,1.9,0A1.9,1.9,0,1,1,-1.9,0Z","M-9,0H-2.3M2.3,0H9M-2.3,0L0,-2.3L2.3,0L0,2.3Z","M-9,0H-2.3M2.3,0H9M-2.3,0L0,-2.3L2.3,0L0,2.3Z"]}}}}
],
"resolve":{"scale":{"stroke":"independent","fill":"independent","shape":"independent"}}
}
